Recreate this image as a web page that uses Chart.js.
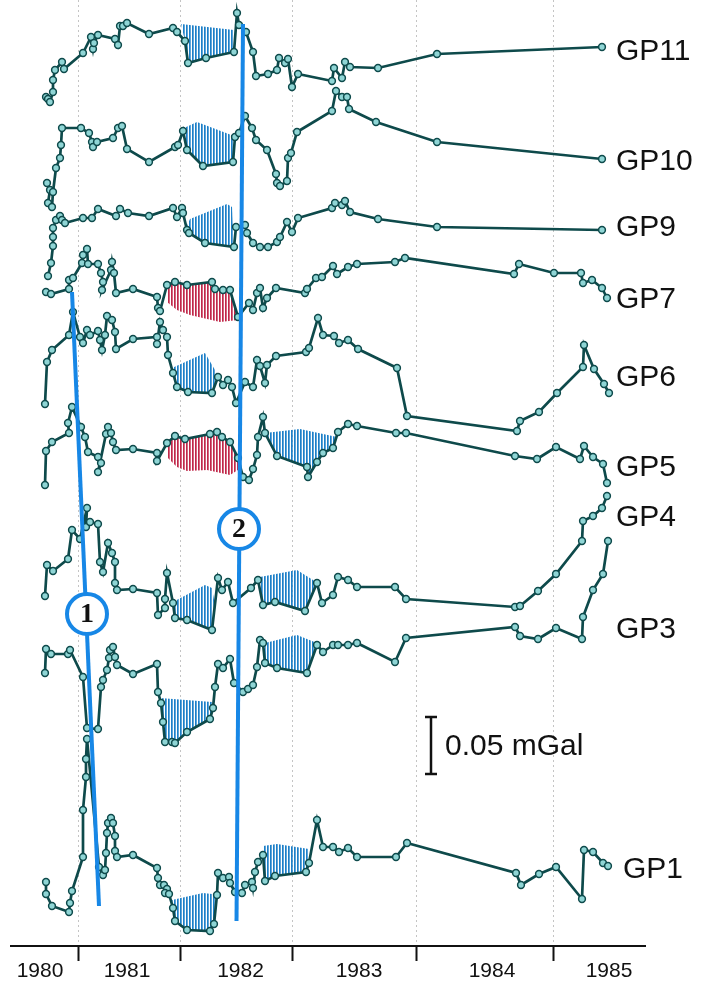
<!DOCTYPE html>
<html>
<head>
<meta charset="utf-8">
<script src="https://cdn.jsdelivr.net/npm/chart.js@4/dist/chart.umd.min.js"></script>
<style>
  html, body { margin: 0; padding: 0; background: #fff; }
  canvas { display: block; }
</style>
</head>
<body>
<canvas id="gravityChart" width="712" height="982"></canvas>
<script>
// x: time index along the axis, y: plotted gravity (station offset included)
const yearBounds = [67, 169, 281, 405, 542];
const yearLabelPos = [29, 116, 229.5, 348, 481, 598];
const yearLabels = ['1980', '1981', '1982', '1983', '1984', '1985'];

const gp11 = [[35,850],[37,848],[39,845],[42,855],[42,867],[44,877],[51,885],[53,878],[72,894],[80,910],[82,898],[83,904],[87,912],[104,908],[107,902],[109,921],[112,921],[116,924],[138,913],[162,919],[166,915],[174,906],[177,884],[195,889],[223,895],[226,934],[228,922],[235,915],[242,895],[245,871],[257,873],[266,877],[268,889],[274,884],[277,888],[281,860],[287,873],[321,866],[323,879],[331,869],[334,885],[339,880],[367,879],[426,893],[591,900]];
const gp10 = [[36,764],[39,757],[37,744],[41,740],[42,755],[45,779],[49,789],[50,802],[51,819],[70,819],[78,814],[81,805],[82,800],[86,805],[102,809],[107,819],[111,821],[116,798],[138,785],[164,800],[167,802],[172,816],[176,797],[192,781],[222,785],[224,810],[228,814],[234,831],[241,819],[245,807],[256,797],[265,773],[266,764],[269,761],[276,766],[277,789],[280,794],[286,815],[321,836],[325,856],[331,850],[336,850],[338,838],[365,825],[426,805],[591,788]];
const gp9 = [[37,671],[40,684],[42,701],[42,710],[42,719],[45,727],[49,731],[51,727],[54,724],[72,729],[81,729],[87,738],[105,731],[109,738],[117,734],[138,731],[162,739],[166,730],[171,739],[172,734],[176,717],[178,714],[194,704],[223,700],[225,720],[234,722],[236,714],[242,704],[249,700],[257,700],[266,705],[269,710],[276,725],[281,715],[287,729],[321,739],[324,744],[331,742],[334,746],[339,735],[367,728],[426,720],[591,717]];
const gp7 = [[35,655],[40,653],[58,658],[58,667],[62,669],[71,684],[72,692],[76,698],[77,683],[87,683],[90,674],[92,665],[91,657],[100,677],[101,685],[103,674],[105,654],[122,658],[146,650],[147,639],[149,636],[156,662],[164,665],[176,662],[201,665],[204,658],[212,657],[219,657],[227,630],[238,644],[242,637],[246,654],[249,659],[252,639],[256,649],[265,659],[294,654],[296,658],[305,669],[311,670],[322,681],[326,673],[337,680],[346,683],[384,685],[394,689],[503,673],[508,683],[543,674],[570,674],[572,664],[581,667],[591,659],[596,649]];
const gp6 = [[34,543],[36,585],[41,597],[58,612],[62,635],[69,610],[72,604],[76,617],[79,612],[87,616],[89,607],[91,597],[94,612],[96,631],[101,627],[104,615],[105,598],[122,608],[146,610],[146,603],[149,625],[152,617],[156,610],[157,592],[162,574],[166,560],[177,555],[201,554],[207,570],[212,562],[217,567],[221,560],[225,544],[234,565],[242,560],[246,587],[249,581],[254,564],[256,582],[265,591],[295,595],[298,599],[307,629],[312,612],[323,611],[328,604],[337,607],[347,598],[386,579],[396,531],[506,516],[509,526],[528,535],[546,554],[572,580],[573,602],[583,578],[593,563],[598,554]];
const gp5 = [[34,462],[35,496],[41,505],[58,514],[57,524],[61,540],[70,520],[74,510],[77,495],[87,490],[90,484],[87,475],[95,513],[97,520],[100,514],[102,505],[105,497],[122,498],[146,494],[146,486],[156,504],[164,511],[174,508],[199,513],[206,515],[211,510],[219,505],[227,489],[232,470],[238,467],[242,478],[246,492],[247,510],[252,530],[254,514],[266,491],[296,480],[297,470],[306,485],[312,494],[322,499],[327,515],[337,523],[346,521],[385,514],[395,514],[504,491],[526,488],[545,500],[569,488],[573,501],[582,490],[592,483],[596,464]];
const gp4 = [[34,351],[36,382],[42,376],[57,388],[61,417],[69,408],[76,439],[75,420],[79,425],[87,423],[89,385],[92,375],[97,404],[101,394],[104,385],[104,364],[106,357],[122,358],[146,354],[147,332],[154,339],[154,348],[156,374],[162,344],[164,329],[176,327],[201,317],[207,369],[211,357],[217,365],[222,344],[240,359],[247,367],[252,342],[264,345],[294,336],[306,364],[311,344],[322,352],[327,370],[337,367],[346,360],[384,360],[395,348],[504,340],[509,341],[527,356],[545,373],[571,406],[572,426],[582,431],[591,439],[596,451]];
const gp3 = [[34,274],[35,298],[40,293],[57,293],[59,297],[72,270],[76,219],[87,218],[90,260],[92,267],[96,277],[98,289],[99,297],[102,300],[104,290],[106,282],[122,273],[146,283],[147,255],[150,244],[152,225],[154,205],[161,205],[164,204],[176,215],[199,228],[202,239],[204,260],[207,283],[212,279],[219,288],[223,264],[232,255],[237,258],[242,262],[246,280],[249,307],[252,304],[254,284],[266,279],[296,274],[306,302],[312,295],[322,302],[327,302],[337,302],[346,304],[384,285],[395,309],[504,320],[509,311],[527,308],[545,319],[571,308],[572,330],[582,357],[592,373],[597,406]];
const gp1 = [[35,65],[35,53],[41,41],[58,35],[59,44],[61,56],[72,90],[72,137],[75,170],[75,188],[76,208],[88,80],[92,72],[94,77],[95,94],[96,114],[97,124],[100,129],[102,124],[104,111],[104,96],[106,90],[122,92],[146,79],[147,69],[149,62],[153,62],[156,58],[154,54],[158,53],[162,39],[164,26],[176,17],[199,16],[203,23],[206,52],[207,74],[212,69],[218,70],[219,64],[224,55],[231,54],[234,62],[241,65],[242,59],[244,75],[247,85],[252,92],[254,66],[264,71],[295,75],[298,84],[306,127],[312,100],[322,100],[328,95],[337,99],[346,90],[385,90],[396,104],[505,74],[510,62],[528,73],[545,80],[571,48],[573,97],[582,95],[592,84],[597,81]];

const stations = [gp11, gp10, gp9, gp7, gp6, gp5, gp4, gp3, gp1];
const stationNames = ['GP11', 'GP10', 'GP9', 'GP7', 'GP6', 'GP5', 'GP4', 'GP3', 'GP1'];
const nameT = [605, 605, 605, 605, 605, 605, 605, 605, 612];
const nameV = [895, 785, 719, 647, 569, 479, 429, 317, 77];

// hatched anomaly areas (closed outlines)
const blueAreas = [
  [[170,923],[223,917],[223,895],[195,889],[177,884],[174,906]],
  [[173,819],[186,825],[223,811],[222,785],[192,781],[176,797]],
  [[175,719],[179,728],[216,743],[221,740],[223,700],[194,704],[178,714]],
  [[161,579],[194,594],[204,577],[207,570],[201,554],[177,555],[166,560],[162,574]],
  [[254,514],[289,518],[326,510],[322,499],[312,494],[306,485],[297,470],[296,480],[266,491]],
  [[162,345],[194,362],[201,359],[203,347],[201,317],[176,327],[164,329]],
  [[249,370],[286,377],[302,367],[306,364],[294,336],[264,345],[252,342],[247,367]],
  [[149,249],[201,245],[202,239],[199,228],[176,215],[164,204],[161,205],[154,205],[152,225],[150,244]],
  [[254,304],[286,312],[306,304],[306,302],[296,274],[266,279],[254,284]],
  [[161,47],[192,54],[201,53],[206,52],[203,23],[199,16],[176,17],[164,26],[162,39]],
  [[252,101],[266,103],[298,98],[298,84],[295,75],[264,71],[254,66],[252,92]]
];
const redAreas = [
  [[156,662],[164,665],[176,662],[201,665],[204,658],[212,657],[219,657],[227,630],[227,627],[209,625],[179,632],[166,637],[156,645]],
  [[156,504],[164,511],[174,508],[199,513],[206,515],[211,510],[219,505],[227,489],[227,477],[219,472],[196,477],[176,476],[166,480],[156,490]]
];

const markerLines = [
  [[61,655],[88,41]],
  [[232,923],[225.5,26]]
];
const markerCircles = [[76,333],[228,418]];
const markerNames = ['1', '2'];

const scaleBar = [[420,173],[420,230]];
const scaleBarLabel = [434, 200];

const toPts = arr => arr.map(([t, v]) => ({ x: t, y: v }));

function hatch(color) {
  const c = document.createElement('canvas');
  c.width = 3;
  c.height = 3;
  const g = c.getContext('2d');
  g.fillStyle = color;
  g.fillRect(0, 0, 1, 3);
  g.globalAlpha = 0.7;
  g.fillRect(1, 0, 1, 3);
  return g.createPattern(c, 'repeat');
}

const blueHatch = hatch('#1c7fc8');
const redHatch = hatch('#c0284a');
const lineColor = '#0e4a4b';
const markBlue = '#1787e6';

const datasets = [];
blueAreas.concat(redAreas).forEach((area, i) => {
  datasets.push({
    data: toPts(area),
    fill: 'shape',
    backgroundColor: i < blueAreas.length ? blueHatch : redHatch,
    borderWidth: 0,
    pointRadius: 0,
    order: 5
  });
});
stations.forEach(st => {
  datasets.push({
    data: toPts(st),
    borderColor: lineColor,
    borderWidth: 2.7,
    pointRadius: 3.4,
    pointBorderWidth: 1.5,
    pointBackgroundColor: '#8fd5d5',
    pointBorderColor: lineColor,
    fill: false,
    order: 3
  });
});
markerLines.forEach(l => {
  datasets.push({
    data: toPts(l),
    borderColor: markBlue,
    borderWidth: 4,
    pointRadius: 0,
    fill: false,
    order: 1
  });
});
datasets.push({
  data: toPts(markerCircles),
  showLine: false,
  pointRadius: 20,
  pointBorderWidth: 4,
  pointBorderColor: markBlue,
  pointBackgroundColor: '#fff',
  order: 0
});
datasets.push({
  data: toPts(scaleBar),
  borderColor: '#111',
  borderWidth: 2.5,
  pointStyle: 'line',
  pointRadius: 6,
  pointBorderWidth: 2.5,
  pointBorderColor: '#111',
  fill: false,
  order: 0
});

const overlayText = {
  id: 'overlayText',
  afterDatasetsDraw(chart) {
    const { ctx, scales: { x, y } } = chart;
    ctx.save();
    ctx.fillStyle = '#111';
    ctx.textBaseline = 'middle';
    ctx.textAlign = 'left';
    ctx.font = '30px "Liberation Sans", Arial, sans-serif';
    stationNames.forEach((name, i) => {
      ctx.fillText(name, x.getPixelForValue(nameT[i]), y.getPixelForValue(nameV[i]));
    });
    ctx.fillText('0.05 mGal', x.getPixelForValue(scaleBarLabel[0]), y.getPixelForValue(scaleBarLabel[1]));
    ctx.textAlign = 'center';
    ctx.font = 'bold 28px "Liberation Serif", "DejaVu Serif", serif';
    markerCircles.forEach(([t, v], i) => {
      ctx.fillText(markerNames[i], x.getPixelForValue(t), y.getPixelForValue(v) + 1);
    });
    ctx.restore();
  }
};

const isBound = v => yearBounds.includes(v);

new Chart(document.getElementById('gravityChart'), {
  type: 'line',
  data: { datasets },
  options: {
    responsive: false,
    animation: false,
    layout: { autoPadding: false, padding: { left: 11, right: 67, top: 0, bottom: 0 } },
    plugins: { legend: { display: false }, tooltip: { enabled: false } },
    scales: {
      x: {
        type: 'linear',
        min: 0,
        max: 634,
        afterBuildTicks: scale => {
          scale.ticks = yearBounds.concat(yearLabelPos).sort((a, b) => a - b).map(v => ({ value: v }));
        },
        ticks: {
          autoSkip: false,
          maxRotation: 0,
          padding: 0,
          color: '#111',
          font: { family: '"Liberation Sans", Arial, sans-serif', size: 21, lineHeight: 1 },
          callback: v => {
            const i = yearLabelPos.indexOf(v);
            return i >= 0 ? yearLabels[i] : '';
          }
        },
        grid: {
          color: ctx => isBound(ctx.tick.value) ? '#c4c4c4' : 'rgba(0,0,0,0)',
          tickColor: ctx => isBound(ctx.tick.value) ? '#111' : 'rgba(0,0,0,0)',
          lineWidth: 1,
          tickLength: 15,
          tickWidth: 2
        },
        border: { display: true, color: '#111', width: 2, dash: [2, 3] }
      },
      y: {
        type: 'linear',
        display: false,
        min: 1,
        max: 947
      }
    }
  },
  plugins: [overlayText]
});
</script>
</body>
</html>
